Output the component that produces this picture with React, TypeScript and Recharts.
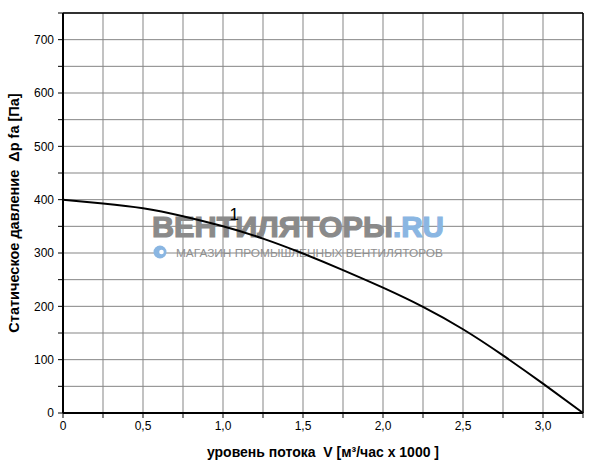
import { LineChart, Line, XAxis, YAxis, CartesianGrid, ReferenceLine, ReferenceDot, Customized } from "recharts";

// fan curve 1
const flowValues = [0, 0.25, 0.5, 0.75, 1.0, 1.25, 1.5, 1.75, 2.0, 2.25, 2.5, 2.75, 3.0, 3.25];
const pressureValues = [400, 393, 384, 369, 350, 327, 299, 268, 235, 199, 157, 108, 55, 0];

const xTicks = [0, 0.25, 0.5, 0.75, 1.0, 1.25, 1.5, 1.75, 2.0, 2.25, 2.5, 2.75, 3.0, 3.25];
const yTicks = [0, 50, 100, 150, 200, 250, 300, 350, 400, 450, 500, 550, 600, 650, 700, 750];

const curveLabel = { text: "1", flow: 1.07, pressure: 374 };

const xTitle = "уровень потока\u00A0\u00A0V [м³/час x 1000 ]";
const yTitle = "Статическое давление\u00A0\u00A0Δp fa [Па]";

const data = flowValues.map((flow, i) => ({ flow, pressure: pressureValues[i] }));

const font = "'Liberation Sans', Arial, sans-serif";

const fmtX = (v: number) => {
  if (Math.round(v * 100) % 50 !== 0 || v > 3.1) return "";
  return v === 0 ? "0" : v.toFixed(1).replace(".", ",");
};
const fmtY = (v: number) => (v % 100 === 0 && v < 750 ? String(v) : "");

function Watermark() {
  return (
    <g style={{ pointerEvents: "none" }}>
      <text x={152} y={237} fontFamily={font} fontWeight="bold" fontSize={30} fill="#8a8a8a" stroke="#8a8a8a" strokeWidth={1.2} textLength={241} lengthAdjust="spacingAndGlyphs">
        ВЕНТИЛЯТОРЫ
      </text>
      <text x={393} y={237} fontFamily={font} fontWeight="bold" fontSize={30} fill="#8ab6e2" stroke="#8ab6e2" strokeWidth={1.2} textLength={51} lengthAdjust="spacingAndGlyphs">
        .RU
      </text>
      <circle cx={160} cy={252} r={6.5} fill="#8ab6e2" />
      <circle cx={161.5} cy={252} r={2.3} fill="#ffffff" />
      <text x={176} y={256.5} fontFamily={font} fontSize={11.5} fill="#8f8f8f" textLength={267} lengthAdjust="spacingAndGlyphs">
        МАГАЗИН ПРОМЫШЛЕННЫХ ВЕНТИЛЯТОРОВ
      </text>
    </g>
  );
}

export default function App() {
  return (
    <div style={{ position: "fixed", left: 0, top: 0, background: "#fff" }}>
      <LineChart width={600} height={468} data={data} margin={{ top: 13, right: 17, bottom: 0, left: 0 }}>
        <CartesianGrid stroke="#858585" strokeWidth={1} />
        <Customized component={Watermark} />
        <XAxis
          type="number"
          dataKey="flow"
          domain={[0, 3.25]}
          ticks={xTicks}
          interval={0}
          tickFormatter={fmtX}
          height={55}
          tickSize={5}
          tickMargin={3}
          axisLine={{ stroke: "#000", strokeWidth: 2 }}
          tickLine={{ stroke: "#000" }}
          tick={{ fill: "#000", fontSize: 12, fontFamily: font }}
          label={{
            content: (p: any) => (
              <text
                x={p.viewBox.x + p.viewBox.width / 2}
                y={p.viewBox.y + 44}
                textAnchor="middle"
                fontFamily={font}
                fontWeight="bold"
                fontSize={14}
                fill="#000"
              >
                {xTitle}
              </text>
            ),
          }}
        />
        <YAxis
          type="number"
          domain={[0, 750]}
          ticks={yTicks}
          interval={0}
          tickFormatter={fmtY}
          width={63}
          tickSize={5}
          tickMargin={4}
          axisLine={{ stroke: "#000", strokeWidth: 2 }}
          tickLine={{ stroke: "#000" }}
          tick={{ fill: "#000", fontSize: 12, fontFamily: font }}
          label={{
            content: (p: any) => {
              const cx = p.viewBox.x + 19;
              const cy = p.viewBox.y + p.viewBox.height / 2;
              return (
                <text
                  x={cx}
                  y={cy}
                  transform={`rotate(-90 ${cx} ${cy})`}
                  textAnchor="middle"
                  fontFamily={font}
                  fontWeight="bold"
                  fontSize={14.5}
                  fill="#000"
                >
                  {yTitle}
                </text>
              );
            },
          }}
        />
        <ReferenceLine y={750} stroke="#000" strokeWidth={1.5} />
        <ReferenceLine x={3.25} stroke="#000" strokeWidth={1.5} />
        <Line
          type="natural"
          dataKey="pressure"
          stroke="#000"
          strokeWidth={2}
          dot={false}
          activeDot={false}
          isAnimationActive={false}
        />
        <ReferenceDot
          x={curveLabel.flow}
          y={curveLabel.pressure}
          r={0}
          stroke="none"
          label={{ value: curveLabel.text, position: "center", fontSize: 17, fontFamily: font, fill: "#000" }}
        />
      </LineChart>
    </div>
  );
}
